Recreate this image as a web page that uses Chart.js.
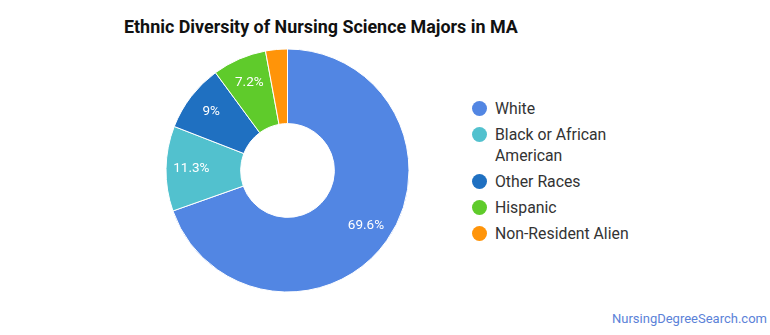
<!DOCTYPE html>
<html>
<head>
<meta charset="utf-8">
<script src="https://cdn.jsdelivr.net/npm/chart.js@4/dist/chart.umd.min.js"></script>
<style>
    body { margin: 0; width: 770px; height: 335px; background: #fff; font-family: Roboto, sans-serif; position: relative; overflow: hidden; }
    #title { position: absolute; left: 124px; top: 16px; font-size: 17.9px; font-weight: bold; color: #111; }
    #chartBox { position: absolute; left: 160px; top: 43px; width: 255px; height: 255px; }
    #legend { position: absolute; left: 472px; top: 98px; font-size: 15.8px; color: #333; }
    .item { position: relative; padding-left: 23px; line-height: 21px; margin-bottom: 5px; }
    .dot { position: absolute; left: 0; top: 3px; width: 15px; height: 15px; border-radius: 50%; }
    #credit { position: absolute; left: 612px; top: 311px; font-size: 13px; color: #5b82d8; }
</style>
</head>
<body>
<div id="title">Ethnic Diversity of Nursing Science Majors in MA</div>
<div id="chartBox"><canvas id="donut"></canvas></div>
<div id="legend"></div>
<div id="credit">NursingDegreeSearch.com</div>
<script>
const categories = ["White", "Black or African American", "Other Races", "Hispanic", "Non-Resident Alien"];
const shares = [69.6, 11.3, 9, 7.2, 2.9];
const colors = ["#5286e3", "#52c1ce", "#1f70c1", "#5fcb2b", "#ff9409"];

// white percent labels inside the bigger slices
const sliceLabels = {
    id: "sliceLabels",
    afterDatasetsDraw(chart) {
        const ctx = chart.ctx;
        const meta = chart.getDatasetMeta(0);
        ctx.save();
        ctx.font = "13.5px Roboto";
        ctx.fillStyle = "#fff";
        ctx.textAlign = "center";
        ctx.textBaseline = "middle";
        meta.data.forEach((arc, i) => {
            if (shares[i] < 5) return;
            const p = arc.getProps(["x", "y", "startAngle", "endAngle", "innerRadius", "outerRadius"], true);
            const mid = (p.startAngle + p.endAngle) / 2;
            const r = p.innerRadius + (p.outerRadius - p.innerRadius) * 0.66;
            ctx.fillText(shares[i] + "%", p.x + Math.cos(mid) * r, p.y + Math.sin(mid) * r);
        });
        ctx.restore();
    }
};

new Chart(document.getElementById("donut"), {
    type: "doughnut",
    data: {
        labels: categories,
        datasets: [{
            data: shares,
            backgroundColor: colors,
            borderColor: "#fff",
            borderWidth: 1,
            radius: 121.5,
            cutout: 49
        }]
    },
    options: {
        responsive: true,
        maintainAspectRatio: false,
        animation: false,
        layout: { padding: 0 },
        plugins: {
            legend: { display: false },
            tooltip: { enabled: false }
        }
    },
    plugins: [sliceLabels]
});

// legend, long names wrapped onto two lines
function wrapLabel(text) {
    if (text.length <= 20) return text;
    const words = text.split(" ");
    let first = "";
    while (words.length && (first + " " + words[0]).trim().length <= 16) {
        first = (first + " " + words.shift()).trim();
    }
    return first + "<br>" + words.join(" ");
}

const legend = document.getElementById("legend");
categories.forEach((name, i) => {
    const item = document.createElement("div");
    item.className = "item";
    item.innerHTML = `<span class="dot" style="background:${colors[i]}"></span>${wrapLabel(name)}`;
    legend.appendChild(item);
});
</script>
</body>
</html>
